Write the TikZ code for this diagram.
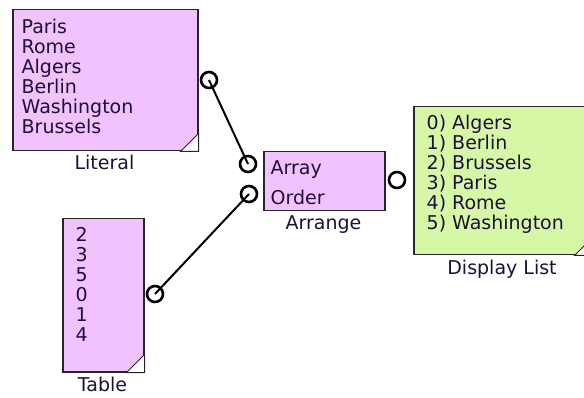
\documentclass[tikz,border=0pt]{standalone}
\usepackage{fontspec}
\setmainfont{DejaVu Sans}
\definecolor{boxpink}{RGB}{242,194,255}
\definecolor{boxgreen}{RGB}{214,248,166}
\definecolor{txt}{RGB}{30,15,55}
\begin{document}
\begin{tikzpicture}[x=1pt,y=-1pt,
  blk/.style={draw=black!85, line width=1.5pt, minimum width=#1, anchor=north west, inner sep=0pt},
  content/.style={anchor=north west, inner sep=0pt, align=left, text=txt, font=\fontsize{19}{20}\selectfont},
  lbl/.style={anchor=base, inner sep=0pt, text=txt, font=\fontsize{19}{20}\selectfont},
  port/.style={circle, draw=black, line width=2.6pt, minimum size=16pt, inner sep=0pt},
  wire/.style={draw=black, line width=2pt},
  corner/.style={fill=white, draw=black!85, line width=1pt}
]
\path[use as bounding box, clip] (0,0) rectangle (584,398);
% Literal
\node[blk=185pt, minimum height=141pt, fill=boxpink] (literal) at (12,9) {};
\path[corner] (literal.south east) ++(-18,0) -- ++(18,-18) -- (literal.south east) -- cycle;
\node[content] (littext) at (21.5,19) {Paris\\Rome\\Algers\\Berlin\\Washington\\Brussels};
\node[lbl] (litlbl) at (104.5,170) {Literal};
% Table
\node[blk=81pt, minimum height=153pt, fill=boxpink] (table) at (62,218) {};
\path[corner] (table.south east) ++(-18,0) -- ++(18,-18) -- (table.south east) -- cycle;
\node[content] (tabtext) at (75.5,227) {2\\3\\5\\0\\1\\4};
\node[lbl] (tablbl) at (102.5,391.5) {Table};
% Arrange
\node[blk=121pt, minimum height=59pt, fill=boxpink] (arrange) at (263,151) {};
\node[lbl, anchor=base west] (arrarray) at (270.5,175) {Array};
\node[lbl, anchor=base west] (arrorder) at (270.5,205) {Order};
\node[lbl] (arrlbl) at (323.5,230) {Arrange};
% Display List
\node[blk=178pt, minimum height=148pt, fill=boxgreen] (display) at (413,106) {};
\path[corner] (display.south east) ++(-18,0) -- ++(18,-18) -- (display.south east) -- cycle;
\node[content] (distext) at (426.5,114.5) {0) Algers\\1) Berlin\\2) Brussels\\3) Paris\\4) Rome\\5) Washington};
\node[lbl] (dislbl) at (502,275) {Display List};
% ports
\node[port] (litout) at (209,80) {};
\node[port] (arrin1) at (248,164) {};
\node[port] (arrin2) at (249,194) {};
\node[port] (arrout) at (397,180) {};
\node[port] (tabout) at (155,294) {};
% wires
\draw[wire] (litout.center) -- (arrin1.center);
\draw[wire] (tabout.center) -- (arrin2.center);
\end{tikzpicture}
\end{document}
